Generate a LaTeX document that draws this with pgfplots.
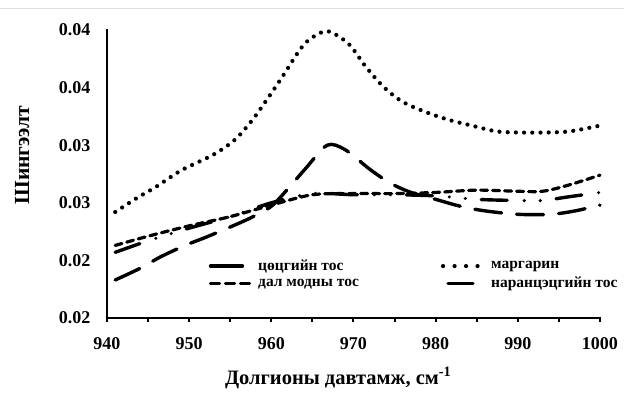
\documentclass[border=0pt]{standalone}
\usepackage{pgfplots}
\pgfplotsset{compat=1.18}
\usepackage{fontspec}
\setmainfont{Liberation Serif}
\pgfplotsset{
  butterleg/.style={legend image code/.code={\path (0pt,0pt) (44pt,0pt); \draw[##1, solid] (0pt,0pt) -- (32pt,0pt);}},
  margleg/.style={legend image code/.code={\path (0pt,0pt) (44pt,0pt); \draw[##1, dash pattern=on 0pt off 11.5pt] (0pt,0pt) -- (35pt,0pt);}},
  palmleg/.style={legend image code/.code={\path (0pt,0pt) (44pt,0pt); \draw[##1, dash pattern=on 9pt off 6pt] (0pt,0pt) -- (42pt,0pt);}},
  sunleg/.style={legend image code/.code={\path (0pt,0pt) (44pt,0pt); \draw[##1, solid] (5pt,0pt) -- (30pt,0pt);}},
}
\begin{document}
\begin{tikzpicture}
\useasboundingbox (0,0) rectangle (624pt,393pt);
\draw[black!12, line width=0.8pt] (0pt,385pt) -- (624pt,385pt);
\begin{axis}[
  at={(107pt,75pt)}, anchor=south west,
  scale only axis, width=493pt, height=288pt,
  xmin=940, xmax=1000, ymin=0.015, ymax=0.04,
  scaled y ticks=false, scaled x ticks=false,
  axis lines*=left,
  axis line style={line width=2.8pt, line cap=rect},
  xtick={940,950,960,970,980,990,1000},
  minor xtick={945,955,965,975,985,995},
  xticklabels={940,950,960,970,980,990,1000},
  ytick={0.015,0.02,0.025,0.03,0.035,0.04},
  yticklabels={0.02,0.02,0.03,0.03,0.04,0.04},
  tick align=outside,
  x tick style={line width=2pt, black},
  major tick length=4pt, minor tick length=4pt,
  y tick style={draw=none},
  tick label style={font=\fontsize{18}{21}\selectfont\bfseries},
  xticklabel style={yshift=-12pt},
  yticklabel style={xshift=-9pt},
  xlabel={Долгионы давтамж, см\textsuperscript{-1}},
  ylabel={Шингээлт},
  xlabel style={font=\fontsize{20.5}{24}\selectfont\bfseries, at={(axis description cs:0.469,-0.208)}, anchor=center},
  ylabel style={font=\fontsize{21.5}{24}\selectfont\bfseries, at={(axis description cs:-0.172,0.566)}, anchor=center},
  legend columns=2,
  legend cell align=left,
  legend style={at={(axis description cs:0.2,0.216)}, anchor=north west,
    draw=none, fill=none, font=\fontsize{15.5}{17}\selectfont\bfseries,
    row sep=1pt,
    /tikz/every even column/.append style={column sep=80pt}},
  every axis plot/.append style={black, line cap=round, smooth, tension=0.5},
  clip=false,
]
% butter: long dash dot dot
\addplot[line width=3.4pt, dash pattern=on 26pt off 17pt on 0pt off 16pt on 0pt off 16pt, butterleg]
  coordinates {
  (941,0.0207) (945,0.0217) (950,0.0228) (955,0.0238) (960,0.0250) (965,0.0258)
  (970,0.0257) (975,0.0257) (980,0.0256) (985,0.0253) (990,0.0252) (993,0.0252)
  (996,0.0255) (1000,0.0259)};
\addlegendentry{цөцгийн тос}
% margarine: dotted
\addplot[line width=4.2pt, dash pattern=on 0pt off 8.2pt, margleg]
  coordinates {
  (941,0.0242) (943.6,0.0254) (946,0.0264) (949,0.0278) (953,0.0292) (955.6,0.0305)
  (957.7,0.0322) (959.6,0.0341) (961.4,0.0360) (963.2,0.0380) (964.5,0.0391)
  (966.8,0.0399) (969.4,0.0388) (971.4,0.0369) (973.6,0.0351) (975.9,0.0338)
  (978.7,0.0329) (981.6,0.0322) (984.4,0.0317) (987.4,0.0312) (990.4,0.0311)
  (993.3,0.0311) (996.3,0.0312) (1000,0.0317)};
\addlegendentry{маргарин}
% palm: short dash
\addplot[line width=3.2pt, dash pattern=on 7pt off 5pt, palmleg]
  coordinates {
  (941,0.0213) (945,0.0221) (950,0.0230) (955,0.0238) (960,0.0248) (965,0.0257)
  (970,0.0258) (975,0.0258) (980,0.0259) (985,0.0261) (990,0.0260) (993,0.0260)
  (996,0.0265) (1000,0.0274)};
\addlegendentry{дал модны тос}
% sunflower: long dash
\addplot[line width=3.4pt, dash pattern=on 27pt off 15pt, sunleg]
  coordinates {
  (941,0.0183) (944,0.0193) (946.5,0.0203) (949.5,0.0213) (952,0.0220) (955,0.0229)
  (957.5,0.0237) (960,0.0247) (962,0.0262) (964.2,0.0280) (966.8,0.0300) (969,0.0296)
  (972,0.0279) (974.5,0.0267) (977,0.0259) (980,0.0253) (983,0.0247) (986,0.0243)
  (990,0.0240) (994,0.0240) (997,0.0243) (1000,0.0248)};
\addlegendentry{наранцэцгийн тос}
\end{axis}
\end{tikzpicture}
\end{document}
